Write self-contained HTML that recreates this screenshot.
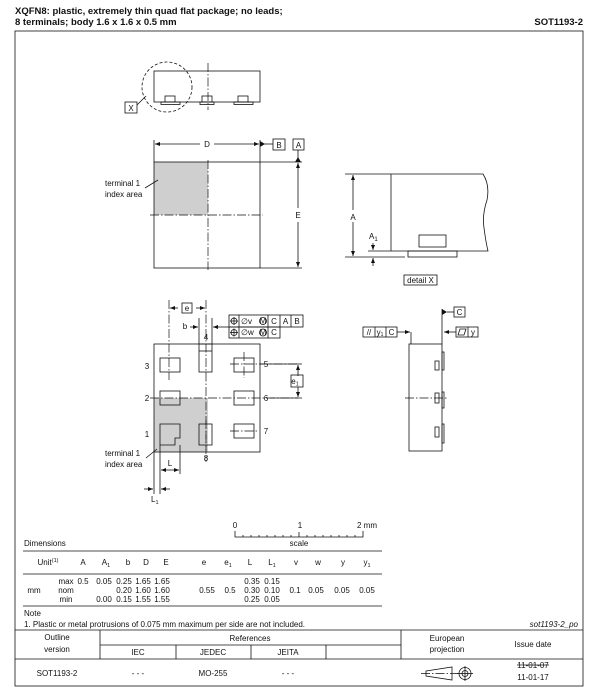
<!DOCTYPE html>
<html><head><meta charset="utf-8"><style>
html,body{margin:0;padding:0;background:#fff}
svg{display:block}
text{font-family:"Liberation Sans",Arial,sans-serif;font-size:8px;fill:#111}
.t{font-size:9.5px;font-weight:bold}
line,rect,path,polyline,polygon,circle,ellipse{stroke:#111;stroke-width:0.8;fill:none}
.c{stroke-dasharray:9 2 1.5 2;stroke-width:0.7}
.g{fill:#cfcfcf;stroke:none}
.f{fill:#111;stroke:none}
</style></head><body>
<svg width="600" height="697" viewBox="0 0 600 697" xmlns="http://www.w3.org/2000/svg">
<defs>
<marker id="ar" markerWidth="6" markerHeight="6" refX="5" refY="3" orient="auto" markerUnits="userSpaceOnUse"><path d="M0,1 L5,3 L0,5 Z" class="f"/></marker>
</defs>
<text x="15" y="14" class="t">XQFN8: plastic, extremely thin quad flat package; no leads;</text>
<text x="15" y="25" class="t">8 terminals; body 1.6 x 1.6 x 0.5 mm</text>
<text x="583" y="25" class="t" text-anchor="end">SOT1193-2</text>
<rect x="15" y="31" width="568" height="655"/>

<!-- side view top -->
<rect x="154" y="71" width="106" height="31"/>
<rect x="165" y="96" width="10" height="6"/><rect x="161" y="102" width="19" height="2.5"/>
<rect x="202" y="96" width="10" height="6"/><rect x="200" y="102" width="14" height="2.5"/>
<rect x="238" y="96" width="10" height="6"/><rect x="234" y="102" width="19" height="2.5"/>
<line x1="208" y1="63" x2="208" y2="110" class="c"/>
<ellipse cx="167" cy="87" rx="25" ry="25" stroke-dasharray="3 2"/>
<line x1="137" y1="105" x2="146" y2="96"/>
<rect x="125" y="102" width="12" height="11"/><text x="131" y="111" text-anchor="middle">X</text>

<!-- top view -->
<rect class="g" x="154" y="162" width="54" height="53"/>
<rect x="154" y="162" width="106" height="106"/>
<line x1="208" y1="160" x2="208" y2="270" class="c"/>
<line x1="150" y1="215" x2="263" y2="215" class="c"/>
<line x1="154" y1="140" x2="154" y2="162"/><line x1="260" y1="140" x2="260" y2="162"/>
<line x1="200" y1="144" x2="155" y2="144" marker-end="url(#ar)"/>
<line x1="214" y1="144" x2="259" y2="144" marker-end="url(#ar)"/>
<text x="207" y="147" text-anchor="middle">D</text>
<line x1="260" y1="144" x2="273" y2="144"/><polygon class="f" points="260,141 265,144 260,147"/>
<rect x="273" y="139" width="12" height="11"/><text x="279" y="148" text-anchor="middle">B</text>
<rect x="293" y="139" width="11" height="11"/><text x="298.5" y="148" text-anchor="middle">A</text>
<line x1="298" y1="150" x2="298" y2="162"/><polygon class="f" points="295,162 301,162 298,157"/>
<line x1="260" y1="162" x2="302" y2="162"/><line x1="260" y1="268" x2="302" y2="268"/>
<line x1="298" y1="208" x2="298" y2="163" marker-end="url(#ar)"/>
<line x1="298" y1="222" x2="298" y2="267" marker-end="url(#ar)"/>
<text x="298" y="218" text-anchor="middle">E</text>
<text x="105" y="186">terminal 1</text><text x="105" y="197">index area</text>
<line x1="145" y1="188" x2="158" y2="180"/>

<!-- detail X -->
<line x1="345" y1="174" x2="391" y2="174"/>
<path d="M391,174 L483,174 Q490,185 487,200 Q482,215 484,228 Q486,243 488,251 L368,251"/>
<line x1="391" y1="174" x2="391" y2="251"/>
<line x1="345" y1="257" x2="405" y2="257"/>
<rect x="408" y="251" width="49" height="6"/>
<rect x="419" y="235" width="27" height="12"/>
<line x1="353" y1="210" x2="353" y2="175" marker-end="url(#ar)"/>
<line x1="353" y1="222" x2="353" y2="256" marker-end="url(#ar)"/>
<text x="353" y="220" text-anchor="middle">A</text>
<text x="369" y="239">A<tspan font-size="6" dy="2">1</tspan></text>
<line x1="373" y1="243" x2="373" y2="250" marker-end="url(#ar)"/>
<line x1="373" y1="266" x2="373" y2="258" marker-end="url(#ar)"/>
<rect x="404" y="275" width="33" height="10"/><text x="420.5" y="283" text-anchor="middle">detail X</text>

<!-- bottom view -->
<rect class="g" x="154" y="398" width="54" height="54"/>
<rect x="154" y="344" width="106" height="108"/>
<rect x="160" y="358" width="20" height="14" fill="#fff"/>
<rect x="199" y="344" width="13" height="28"/><line x1="199" y1="351" x2="212" y2="351"/>
<rect x="234" y="358" width="20" height="14"/>
<rect x="160" y="391" width="20" height="14"/>
<rect x="234" y="391" width="20" height="14"/>
<polygon points="160,424 180,424 180,438 175,438 175,445 160,445"/>
<rect x="199" y="424" width="13" height="21"/>
<rect x="234" y="424" width="20" height="14"/>
<line x1="206" y1="300" x2="206" y2="462" class="c"/>
<line x1="169" y1="300" x2="169" y2="380" class="c"/>
<line x1="150" y1="398" x2="298" y2="398" class="c"/>
<line x1="244" y1="352" x2="244" y2="378" class="c"/>
<line x1="230" y1="364" x2="298" y2="364" class="c"/>
<line x1="230" y1="431" x2="258" y2="431" class="c"/>
<line x1="206" y1="420" x2="206" y2="450" class="c"/>
<line x1="178" y1="308" x2="170" y2="308" marker-end="url(#ar)"/>
<line x1="196" y1="308" x2="205" y2="308" marker-end="url(#ar)"/>
<rect x="182" y="303" width="10" height="10" fill="#fff"/><text x="187" y="311" text-anchor="middle">e</text>
<line x1="199" y1="318" x2="199" y2="344"/><line x1="212" y1="318" x2="212" y2="344"/>
<text x="185" y="329" text-anchor="middle">b</text>
<line x1="190" y1="327" x2="198" y2="327" marker-end="url(#ar)"/>
<line x1="229" y1="327" x2="213" y2="327" marker-end="url(#ar)"/>
<rect x="229" y="315" width="74" height="12"/><rect x="229" y="327" width="51" height="11"/>
<line x1="239" y1="315" x2="239" y2="338"/><line x1="268" y1="315" x2="268" y2="338"/>
<line x1="280" y1="315" x2="280" y2="327"/><line x1="291" y1="315" x2="291" y2="327"/>
<circle cx="234" cy="321" r="3"/><line x1="234" y1="317" x2="234" y2="325"/><line x1="230" y1="321" x2="238" y2="321"/>
<circle cx="234" cy="332.5" r="3"/><line x1="234" y1="328.5" x2="234" y2="336.5"/><line x1="230" y1="332.5" x2="238" y2="332.5"/>
<text x="241" y="324" font-size="7.5">∅v</text><circle cx="263" cy="321" r="3.5"/><text x="263" y="323.5" font-size="5.5" text-anchor="middle">M</text>
<text x="241" y="335" font-size="7.5">∅w</text><circle cx="263" cy="332.5" r="3.5"/><text x="263" y="335" font-size="5.5" text-anchor="middle">M</text>
<text x="274" y="324" text-anchor="middle">C</text><text x="285.5" y="324" text-anchor="middle">A</text><text x="297" y="324" text-anchor="middle">B</text>
<text x="274" y="335" text-anchor="middle">C</text>
<text x="206" y="340" text-anchor="middle">4</text>
<text x="147" y="369" text-anchor="middle">3</text>
<text x="147" y="401" text-anchor="middle">2</text>
<text x="147" y="437" text-anchor="middle">1</text>
<text x="266" y="367" text-anchor="middle">5</text>
<text x="266" y="401" text-anchor="middle">6</text>
<text x="266" y="434" text-anchor="middle">7</text>
<text x="206" y="461" text-anchor="middle">8</text>
<line x1="260" y1="364" x2="302" y2="364"/><line x1="270" y1="398" x2="302" y2="398"/>
<line x1="298" y1="376" x2="298" y2="365" marker-end="url(#ar)"/>
<line x1="298" y1="387" x2="298" y2="397" marker-end="url(#ar)"/>
<rect x="291" y="375" width="12" height="12" fill="#fff"/><text x="295" y="384" text-anchor="middle">e<tspan font-size="5.5" dy="1.5">1</tspan></text>
<text x="105" y="456">terminal 1</text><text x="105" y="467">index area</text>
<line x1="146" y1="458" x2="157" y2="449"/>
<line x1="154" y1="452" x2="154" y2="494"/><line x1="160" y1="445" x2="160" y2="494"/><line x1="180" y1="445" x2="180" y2="474"/>
<line x1="170" y1="470" x2="161" y2="470" marker-end="url(#ar)"/><line x1="170" y1="470" x2="179" y2="470" marker-end="url(#ar)"/>
<text x="170" y="466" text-anchor="middle">L</text>
<line x1="144" y1="489" x2="153" y2="489" marker-end="url(#ar)"/><line x1="170" y1="489" x2="161" y2="489" marker-end="url(#ar)"/>
<text x="151" y="502">L<tspan font-size="5.5" dy="2">1</tspan></text>

<!-- side view right -->
<rect x="409" y="344" width="33" height="107"/>
<rect x="442" y="352" width="2" height="18"/><rect x="442" y="392" width="2" height="16"/><rect x="442" y="424" width="2" height="19"/>
<rect x="435" y="361" width="4" height="9"/><rect x="435" y="393" width="4" height="10"/><rect x="435" y="427" width="4" height="10"/>
<line x1="405" y1="398" x2="448" y2="398" class="c"/>
<line x1="442" y1="309" x2="442" y2="344"/><polygon class="f" points="442,309 447,312 442,315"/>
<line x1="447" y1="312" x2="454" y2="312"/>
<rect x="454" y="307" width="11" height="10"/><text x="459.5" y="315" text-anchor="middle">C</text>
<rect x="363" y="327" width="34" height="10"/><line x1="375" y1="327" x2="375" y2="337"/><line x1="386" y1="327" x2="386" y2="337"/>
<text x="369" y="335" text-anchor="middle" font-size="7">//</text><text x="380" y="335" text-anchor="middle">y<tspan font-size="5" dy="1">1</tspan></text><text x="391.5" y="335" text-anchor="middle">C</text>
<line x1="397" y1="332" x2="410" y2="332" marker-end="url(#ar)"/><line x1="411" y1="332" x2="411" y2="344"/>
<line x1="456" y1="332" x2="444" y2="332" marker-end="url(#ar)"/>
<rect x="456" y="327" width="22" height="10"/><line x1="468" y1="327" x2="468" y2="337"/>
<polygon points="458,335 460,329 466,329 464,335"/><text x="473" y="335" text-anchor="middle">y</text>

<!-- scale -->
<text x="235" y="528" text-anchor="middle">0</text><text x="300" y="528" text-anchor="middle">1</text><text x="367" y="528" text-anchor="middle">2 mm</text>
<path d="M235,531 L235,537 L363,537 L363,531"/>
<line x1="243" y1="535" x2="243" y2="537"/><line x1="251" y1="535" x2="251" y2="537"/><line x1="259" y1="535" x2="259" y2="537"/><line x1="267" y1="535" x2="267" y2="537"/><line x1="275" y1="535" x2="275" y2="537"/><line x1="283" y1="535" x2="283" y2="537"/><line x1="291" y1="535" x2="291" y2="537"/><line x1="299" y1="532" x2="299" y2="537"/><line x1="307" y1="535" x2="307" y2="537"/><line x1="315" y1="535" x2="315" y2="537"/><line x1="323" y1="535" x2="323" y2="537"/><line x1="331" y1="535" x2="331" y2="537"/><line x1="339" y1="535" x2="339" y2="537"/><line x1="347" y1="535" x2="347" y2="537"/><line x1="355" y1="535" x2="355" y2="537"/>
<text x="299" y="546" text-anchor="middle" font-size="7">scale</text>

<!-- table -->
<text x="24" y="546">Dimensions</text>
<line x1="23" y1="551" x2="382" y2="551"/><line x1="23" y1="574" x2="382" y2="574"/><line x1="23" y1="606" x2="382" y2="606"/>
<g text-anchor="middle">
<text x="48" y="565">Unit<tspan font-size="5.5" dy="-3">(1)</tspan></text>
<text x="83" y="565">A</text><text x="106" y="565">A<tspan font-size="5.5" dy="2">1</tspan></text><text x="128" y="565">b</text><text x="146" y="565">D</text><text x="166" y="565">E</text><text x="204" y="565">e</text><text x="228" y="565">e<tspan font-size="5.5" dy="2">1</tspan></text><text x="250" y="565">L</text><text x="272" y="565">L<tspan font-size="5.5" dy="2">1</tspan></text><text x="296" y="565">v</text><text x="318" y="565">w</text><text x="343" y="565">y</text><text x="367" y="565">y<tspan font-size="5.5" dy="2">1</tspan></text>
<text x="66" y="584">max</text><text x="83" y="584">0.5</text><text x="104" y="584">0.05</text><text x="124" y="584">0.25</text><text x="143" y="584">1.65</text><text x="162" y="584">1.65</text><text x="252" y="584">0.35</text><text x="272" y="584">0.15</text>
<text x="34" y="593">mm</text><text x="66" y="593">nom</text><text x="124" y="593">0.20</text><text x="143" y="593">1.60</text><text x="162" y="593">1.60</text><text x="207" y="593">0.55</text><text x="230" y="593">0.5</text><text x="252" y="593">0.30</text><text x="272" y="593">0.10</text><text x="295" y="593">0.1</text><text x="316" y="593">0.05</text><text x="342" y="593">0.05</text><text x="367" y="593">0.05</text>
<text x="66" y="602">min</text><text x="104" y="602">0.00</text><text x="124" y="602">0.15</text><text x="143" y="602">1.55</text><text x="162" y="602">1.55</text><text x="252" y="602">0.25</text><text x="272" y="602">0.05</text>
</g>
<text x="24" y="616">Note</text>
<text x="24" y="627">1. Plastic or metal protrusions of 0.075 mm maximum per side are not included.</text>
<text x="578" y="627" text-anchor="end" font-style="italic" font-size="6.5">sot1193-2_po</text>

<!-- footer -->
<line x1="15" y1="630" x2="583" y2="630"/>
<line x1="100" y1="630" x2="100" y2="659"/><line x1="401" y1="630" x2="401" y2="659"/><line x1="100" y1="645" x2="401" y2="645"/>
<line x1="176" y1="645" x2="176" y2="659"/><line x1="251" y1="645" x2="251" y2="659"/><line x1="326" y1="645" x2="326" y2="659"/>
<line x1="15" y1="659" x2="583" y2="659"/>
<g text-anchor="middle">
<text x="57" y="640">Outline</text><text x="57" y="652">version</text>
<text x="250" y="641">References</text>
<text x="138" y="655">IEC</text><text x="213" y="655">JEDEC</text><text x="288" y="655">JEITA</text>
<text x="447" y="641">European</text><text x="447" y="652">projection</text>
<text x="533" y="647">Issue date</text>
<text x="57" y="676">SOT1193-2</text><text x="138" y="676">- - -</text><text x="213" y="676">MO-255</text><text x="288" y="676">- - -</text>
<text x="533" y="668">11-01-07</text><text x="533" y="680">11-01-17</text>
</g>
<line x1="517" y1="665" x2="549" y2="665"/>
<polygon points="426,671 452,667 452,680 426,676"/>
<line x1="421" y1="673.5" x2="458" y2="673.5" class="c"/>
<circle cx="465" cy="673.5" r="6"/><circle cx="465" cy="673.5" r="3"/>
<line x1="457" y1="673.5" x2="473" y2="673.5"/><line x1="465" y1="666" x2="465" y2="681"/>
</svg>
</body></html>
